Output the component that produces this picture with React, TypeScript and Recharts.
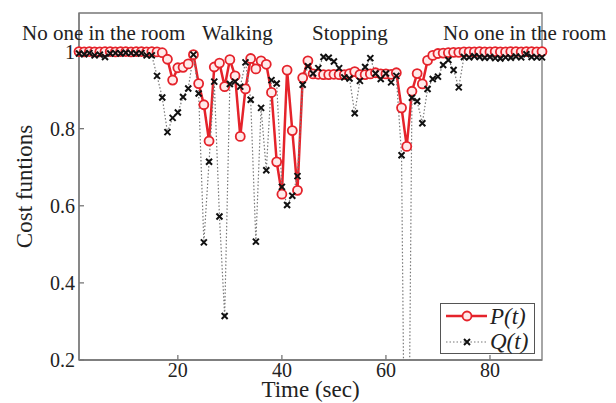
import { Legend, Line, LineChart, ReferenceArea, XAxis, YAxis } from 'recharts'

const times = [
  1, 2, 3, 4, 5, 6, 7, 8, 9, 10, 11, 12, 13, 14, 15, 16, 17, 18, 19, 20, 21, 22, 23, 24, 25, 26, 27, 28, 29, 30,
  31, 32, 33, 34, 35, 36, 37, 38, 39, 40, 41, 42, 43, 44, 45, 46, 47, 48, 49, 50, 51, 52, 53, 54, 55, 56, 57, 58, 59, 60,
  61, 62, 63, 64, 65, 66, 67, 68, 69, 70, 71, 72, 73, 74, 75, 76, 77, 78, 79, 80, 81, 82, 83, 84, 85, 86, 87, 88, 89, 90,
]

const pValues = [
  1.0, 0.999, 1.0, 0.999, 0.999, 1.0, 1.0, 0.999, 1.0, 1.0, 0.999, 1.0, 1.0, 0.999, 1.0, 0.999,
  0.997, 0.98, 0.926, 0.958, 0.959, 0.968, 0.992, 0.917, 0.862, 0.768, 0.96, 0.97, 0.909, 0.979,
  0.937, 0.78, 0.903, 0.982, 0.955, 0.976, 0.967, 0.894, 0.714, 0.63, 0.952, 0.795, 0.64, 0.932, 0.976,
  0.942, 0.941, 0.94, 0.94, 0.941, 0.94, 0.94, 0.943, 0.948, 0.94, 0.94, 0.942, 0.945, 0.942, 0.942, 0.941, 0.945,
  0.854, 0.754, 0.897, 0.943, 0.916, 0.977, 0.99, 0.995,
  0.996, 0.997, 0.998, 0.998, 0.999, 0.999, 0.999, 1.0, 0.999, 0.999, 1.0, 0.999, 0.999, 1.0, 1.0, 0.999, 1.0, 1.0, 0.999, 1.0,
]

const qValues = [
  0.995, 0.993, 0.996, 0.99, 0.992, 0.986, 0.995, 0.996, 0.995, 0.997, 0.996, 0.995, 0.996, 0.99, 0.99,
  0.937, 0.881, 0.791, 0.828, 0.842, 0.882, 0.904, 0.992, 0.891, 0.505, 0.714, 0.922, 0.572, 0.314, 0.916,
  0.922, 0.909, 0.972, 0.875, 0.507, 0.854, 0.692, 0.926, 0.917, 0.649, 0.602, 0.626, 0.677, 0.914, 0.962,
  0.943, 0.957, 0.986, 0.984, 0.974, 0.957, 0.933, 0.93, 0.84, 0.924, 0.96, 0.983, 0.943, 0.929, 0.943, 0.92, 0.937,
  0.731, -0.7, 0.88, 0.871, 0.814, 0.903, 0.929, 0.935, 0.965, 0.978, 0.952, 0.907, 0.986,
  0.985, 0.988, 0.986, 0.984, 0.986, 0.983, 0.982, 0.985, 0.984, 0.987, 0.985, 0.993, 0.986, 0.985, 0.985,
]

const xTicks = [20, 40, 60, 80]
const yTicks = [0.2, 0.4, 0.6, 0.8, 1]
const seriesNames = ['P(t)', 'Q(t)']
const phaseLabels = [
  { text: 'No one in the room', x: 22 },
  { text: 'Walking', x: 202 },
  { text: 'Stopping', x: 312 },
  { text: 'No one in the room', x: 443 },
]

const data = times.map((t, i) => ({ t, P: pValues[i], Q: qValues[i] }))

const RED = '#e5232b'
const FONT = '"Liberation Serif", "Times New Roman", serif'
const AXIS = '#777'

function CrossDot(props: any) {
  const { cx, cy, index, payload } = props
  if (cx == null || cy == null || payload.Q < 0.2) return <g key={`q-${index}`} />
  const s = 3
  return (
    <path
      key={`q-${index}`}
      d={`M${cx - s},${cy - s}L${cx + s},${cy + s}M${cx - s},${cy + s}L${cx + s},${cy - s}`}
      stroke="#111"
      strokeWidth={2}
    />
  )
}

function renderLegend() {
  return (
    <svg width={96} height={51} style={{ display: 'block' }}>
      <rect x={0.5} y={0.5} width={94} height={50} fill="#fff" stroke="#555" />
      <line x1={6} y1={13} x2={47} y2={13} stroke={RED} strokeWidth={2.5} />
      <circle cx={27} cy={13} r={4.5} fill="#ffeaea" stroke={RED} strokeWidth={1.8} />
      <text x={50} y={21} fontFamily={FONT} fontStyle="italic" fontSize={23} fill="#222">
        {seriesNames[0]}
      </text>
      <line x1={6} y1={39} x2={47} y2={39} stroke="#777" strokeWidth={1.2} strokeDasharray="1.5 2" />
      <path d="M24,36L30,42M24,42L30,36" stroke="#111" strokeWidth={2} />
      <text x={50} y={46} fontFamily={FONT} fontStyle="italic" fontSize={23} fill="#222">
        {seriesNames[1]}
      </text>
    </svg>
  )
}

export default function App() {
  return (
    <div style={{ position: 'absolute', left: 0, top: 0, width: 616, height: 403, background: '#fff' }}>
      <LineChart
        width={616}
        height={403}
        data={data}
        margin={{ top: 13, right: 74, bottom: 0, left: 0 }}
      >
        <XAxis
          dataKey="t"
          type="number"
          domain={[1, 90]}
          ticks={xTicks}
          height={43}
          stroke={AXIS}
          strokeWidth={1.3}
          tickSize={-5}
          tickMargin={8}
          tick={{ fill: '#222', fontSize: 20, fontFamily: FONT }}
          label={{
            value: 'Time (sec)',
            position: 'insideBottom',
            offset: 6,
            fill: '#222',
            fontSize: 23,
            fontFamily: FONT,
          }}
        />
        <YAxis
          type="number"
          domain={[0.2, 1.1]}
          allowDataOverflow
          ticks={yTicks}
          width={79}
          stroke={AXIS}
          strokeWidth={1.3}
          tickSize={-5}
          tickMargin={9}
          tickFormatter={(v) => String(v)}
          tick={{ fill: '#222', fontSize: 20, fontFamily: FONT }}
          label={{
            value: 'Cost funtions',
            angle: -90,
            position: 'insideLeft',
            offset: 24,
            fill: '#222',
            fontSize: 23,
            fontFamily: FONT,
            style: { textAnchor: 'middle' },
          }}
        />
        <ReferenceArea x1={1} x2={90} y1={0.2} y2={1.1} fill="none" stroke={AXIS} strokeWidth={1.3} />
        <Line
          dataKey="P"
          name={seriesNames[0]}
          stroke={RED}
          strokeWidth={2.5}
          dot={{ r: 4.5, stroke: RED, strokeWidth: 1.8, fill: '#ffeaea' }}
          isAnimationActive={false}
        />
        <Line
          dataKey="Q"
          name={seriesNames[1]}
          stroke="#777"
          strokeWidth={1.2}
          strokeDasharray="1.5 2"
          dot={CrossDot}
          isAnimationActive={false}
        />
        <Legend
          layout="horizontal"
          verticalAlign="middle"
          align="center"
          wrapperStyle={{ left: 440, top: 303, width: 96, height: 51 }}
          content={renderLegend}
        />
      </LineChart>
      <svg
        width={616}
        height={403}
        style={{ position: 'absolute', left: 0, top: 0, pointerEvents: 'none' }}
      >
        {phaseLabels.map((p, i) => (
          <text key={i} x={p.x} y={40} fontFamily={FONT} fontSize={21} fill="#222">
            {p.text}
          </text>
        ))}
      </svg>
    </div>
  )
}
